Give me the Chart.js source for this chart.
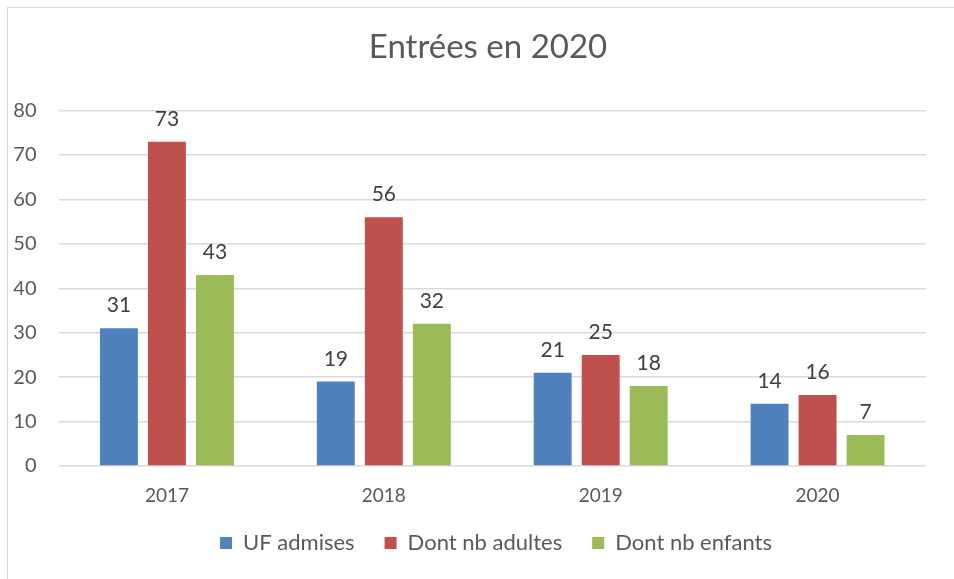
<!DOCTYPE html>
<html>
<head>
<meta charset="utf-8">
<script src="https://cdn.jsdelivr.net/npm/chart.js@4"></script>
<style>
    html, body { margin: 0; padding: 0; background: #fff; overflow: hidden; }
    #wrap { position: relative; width: 954px; height: 579px; }
    #frame { position: absolute; left: 7px; top: 7px; width: 980px; height: 600px; border: 1px solid #d9d9d9; box-sizing: border-box; }
    canvas { position: absolute; left: 0; top: 0; }
</style>
</head>
<body>
<div id="wrap">
    <div id="frame"></div>
    <canvas id="chart" width="954" height="579"></canvas>
</div>
<script>
const years = ['2017', '2018', '2019', '2020'];
const ufAdmises = [31, 19, 21, 14];
const adultes = [73, 56, 25, 16];
const enfants = [43, 32, 18, 7];
const yTicks = [0, 10, 20, 30, 40, 50, 60, 70, 80];

const FONT = 'Lato, "Open Sans", sans-serif';

// ── Value labels above each bar ─────────────────────────────
const barLabels = {
    id: 'barLabels',
    afterDatasetsDraw(chart) {
        const ctx = chart.ctx;
        ctx.save();
        ctx.font = '21px ' + FONT;
        ctx.fillStyle = '#404040';
        ctx.textAlign = 'center';
        ctx.textBaseline = 'alphabetic';
        chart.data.datasets.forEach((ds, i) => {
            chart.getDatasetMeta(i).data.forEach((bar, j) => {
                ctx.fillText(ds.data[j], bar.x, bar.y - 16);
            });
        });
        ctx.restore();
    }
};

// centre title and legend over the plot area, like the original
const shiftBlocks = {
    id: 'shiftBlocks',
    afterLayout(chart) {
        chart.titleBlock.left += 50;
        chart.legend.left += 66;
        chart.legend.top -= 9;
        chart.legend.bottom -= 9;
    }
};

new Chart(document.getElementById('chart'), {
    type: 'bar',
    data: {
        labels: years,
        datasets: [
            { label: 'UF admises', data: ufAdmises, backgroundColor: '#4F81BD' },
            { label: 'Dont nb adultes', data: adultes, backgroundColor: '#C0504D' },
            { label: 'Dont nb enfants', data: enfants, backgroundColor: '#9BBB59' }
        ]
    },
    options: {
        responsive: false, animation: false,
        categoryPercentage: 0.664, barPercentage: 0.79,
        layout: { padding: { left: 0, right: 28, top: 0, bottom: 6 } },
        plugins: {
            title: {
                display: true, text: 'Entrées en 2020', color: '#595959',
                font: { family: FONT, size: 33, weight: 'normal' },
                padding: { top: 28, bottom: 43 }
            },
            legend: {
                position: 'bottom',
                labels: {
                    color: '#595959', boxWidth: 12, boxHeight: 12, padding: 30,
                    font: { family: FONT, size: 22 }
                }
            },
            tooltip: { enabled: false }
        },
        scales: {
            x: {
                afterFit: s => { s.height = 45; },
                grid: { display: false },
                border: { display: false },
                ticks: { color: '#595959', padding: 10, font: { family: FONT, size: 19 } }
            },
            y: {
                min: 0, max: 80,
                afterFit: s => { s.width = 58.5; },
                afterBuildTicks: s => { s.ticks = yTicks.map(v => ({ value: v })); },
                grid: { color: '#d9d9d9', lineWidth: 1.5, drawTicks: false },
                border: { display: false },
                ticks: { color: '#595959', padding: 22, font: { family: FONT, size: 20 } }
            }
        }
    },
    plugins: [barLabels, shiftBlocks]
});
</script>
</body>
</html>
